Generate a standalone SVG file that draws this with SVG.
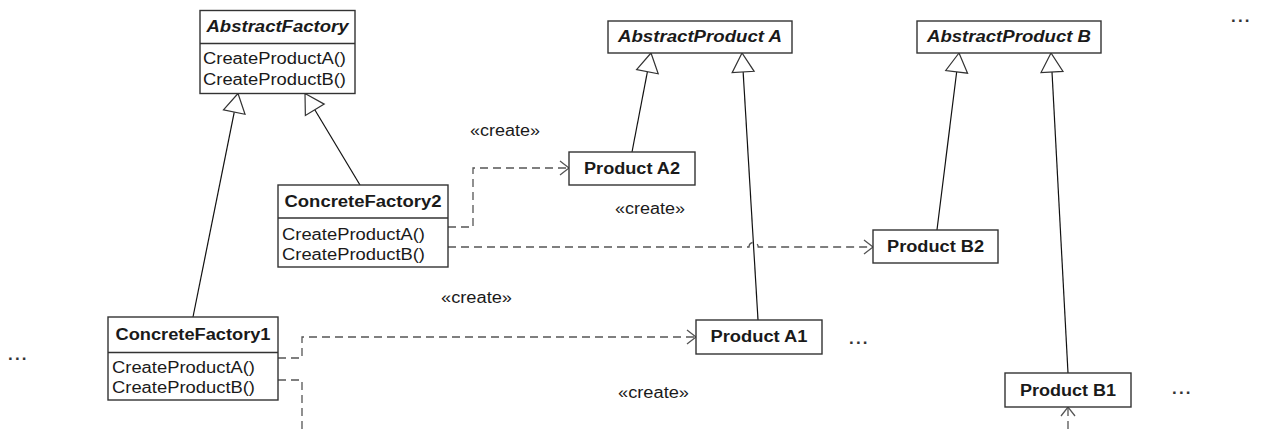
<svg xmlns="http://www.w3.org/2000/svg" width="1268" height="429" viewBox="0 0 1268 429">
<defs>
<style>
.box{fill:#fff;stroke:#333;stroke-width:1.4}
.t{font-family:"Liberation Sans",Arial,sans-serif;font-size:16px;fill:#1a1a1a}
.b{font-weight:bold}
.i{font-style:italic}
.m{text-anchor:middle}
.gen{stroke:#111;stroke-width:1.2;fill:none}
.tri{fill:#fff;stroke:#333;stroke-width:1.2}
.dep{stroke:#555;stroke-width:1.3;stroke-dasharray:8 5;fill:none}
.dots{font-weight:bold;font-size:17px;letter-spacing:2.2px;fill:#333}
</style>
<marker id="open" viewBox="0 0 12 16" refX="10" refY="8" markerWidth="12" markerHeight="16" markerUnits="userSpaceOnUse" orient="auto">
<path d="M1,1 L10,8 L1,15" fill="none" stroke="#555" stroke-width="1.3"/>
</marker>
</defs>
<rect width="1268" height="429" fill="#fff"/>

<g id="connectors">
<line class="gen" x1="234.25" y1="112.13" x2="193" y2="317"/>
<polygon class="tri" points="238,93.5 223.47,109.96 245.03,114.3"/>
<line class="gen" x1="314.79" y1="109.78" x2="360" y2="185"/>
<polygon class="tri" points="305,93.5 305.36,115.45 324.22,104.11"/>
<line class="gen" x1="647.42" y1="71.66" x2="632" y2="152"/>
<polygon class="tri" points="651,53 636.62,69.59 658.22,73.73"/>
<line class="gen" x1="743.14" y1="71.97" x2="758" y2="320"/>
<polygon class="tri" points="742,53 732.16,72.63 754.12,71.31"/>
<line class="gen" x1="956.66" y1="71.85" x2="937" y2="230"/>
<polygon class="tri" points="959,53 945.75,70.49 967.57,73.21"/>
<line class="gen" x1="1052.01" y1="71.97" x2="1068" y2="373"/>
<polygon class="tri" points="1051,53 1041.03,72.55 1062.99,71.39"/>
<path class="dep" d="M448,227 H473 V168 H569" marker-end="url(#open)"/>
<path class="dep" d="M448,247 H749 A4.6,4.6 0 0 1 758.2,247 H873" marker-end="url(#open)"/>
<path class="dep" d="M278,358 H302 V337 H696" marker-end="url(#open)"/>
<path class="dep" d="M278,380 H302 V445 H1068 V407" marker-end="url(#open)"/>
</g>

<g id="AbstractFactory">
<rect class="box" x="200" y="10.5" width="155" height="83"/>
<line class="box" x1="200" y1="43.5" x2="355" y2="43.5"/>
<text class="t b i m" x="277.5" y="32" textLength="142" lengthAdjust="spacingAndGlyphs">AbstractFactory</text>
<text class="t" x="203" y="64" textLength="143" lengthAdjust="spacingAndGlyphs">CreateProductA()</text>
<text class="t" x="203" y="85" textLength="143" lengthAdjust="spacingAndGlyphs">CreateProductB()</text>
</g>

<g id="ConcreteFactory2">
<rect class="box" x="278" y="185" width="170" height="82"/>
<line class="box" x1="278" y1="218" x2="448" y2="218"/>
<text class="t b m" x="363" y="207" textLength="157" lengthAdjust="spacingAndGlyphs">ConcreteFactory2</text>
<text class="t" x="282" y="239.5" textLength="143" lengthAdjust="spacingAndGlyphs">CreateProductA()</text>
<text class="t" x="282" y="259.5" textLength="143" lengthAdjust="spacingAndGlyphs">CreateProductB()</text>
</g>

<g id="ConcreteFactory1">
<rect class="box" x="108" y="317" width="170" height="83"/>
<line class="box" x1="108" y1="352.5" x2="278" y2="352.5"/>
<text class="t b m" x="193" y="340" textLength="155" lengthAdjust="spacingAndGlyphs">ConcreteFactory1</text>
<text class="t" x="112" y="373" textLength="143" lengthAdjust="spacingAndGlyphs">CreateProductA()</text>
<text class="t" x="112" y="393" textLength="143" lengthAdjust="spacingAndGlyphs">CreateProductB()</text>
</g>

<g id="AbstractProductA">
<rect class="box" x="608" y="21" width="184" height="32"/>
<text class="t b i m" x="700" y="42" textLength="164" lengthAdjust="spacingAndGlyphs">AbstractProduct A</text>
</g>

<g id="AbstractProductB">
<rect class="box" x="917" y="21" width="184" height="32"/>
<text class="t b i m" x="1009" y="42" textLength="164" lengthAdjust="spacingAndGlyphs">AbstractProduct B</text>
</g>

<g id="ProductA2">
<rect class="box" x="569" y="152" width="126" height="33"/>
<text class="t b m" x="632" y="173.5" textLength="96" lengthAdjust="spacingAndGlyphs">Product A2</text>
</g>

<g id="ProductB2">
<rect class="box" x="873" y="230" width="125" height="33"/>
<text class="t b m" x="935.5" y="251.5" textLength="97" lengthAdjust="spacingAndGlyphs">Product B2</text>
</g>

<g id="ProductA1">
<rect class="box" x="696" y="320" width="126" height="34"/>
<text class="t b m" x="759" y="342" textLength="97" lengthAdjust="spacingAndGlyphs">Product A1</text>
</g>

<g id="ProductB1">
<rect class="box" x="1005" y="373" width="126" height="34"/>
<text class="t b m" x="1068" y="395.5" textLength="96" lengthAdjust="spacingAndGlyphs">Product B1</text>
</g>

<g id="labels">
<text class="t" x="470" y="136" textLength="70" lengthAdjust="spacingAndGlyphs">«create»</text>
<text class="t" x="615" y="214" textLength="70" lengthAdjust="spacingAndGlyphs">«create»</text>
<text class="t" x="441" y="303" textLength="71" lengthAdjust="spacingAndGlyphs">«create»</text>
<text class="t" x="618" y="398" textLength="71" lengthAdjust="spacingAndGlyphs">«create»</text>
<text class="t dots" x="8" y="360">...</text>
<text class="t dots" x="849" y="344">...</text>
<text class="t dots" x="1172" y="394">...</text>
<text class="t dots" x="1231" y="22">...</text>
</g>
</svg>
